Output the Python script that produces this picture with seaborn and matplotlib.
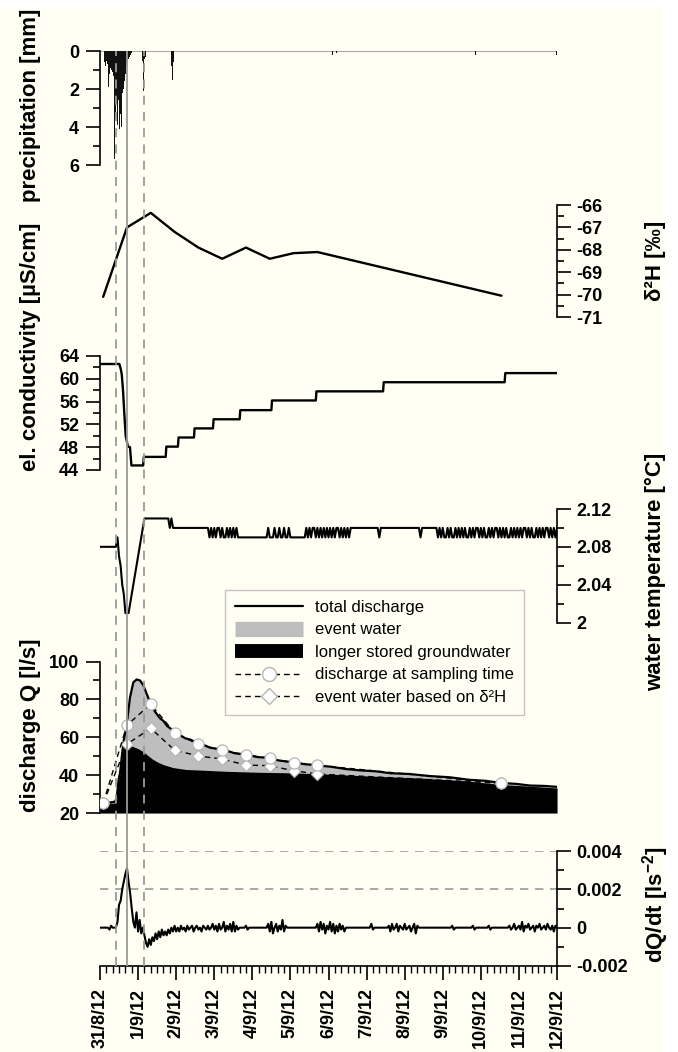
import matplotlib
matplotlib.use("Agg")
import matplotlib.pyplot as plt
import seaborn as sns
import pandas as pd
from matplotlib.lines import Line2D
from matplotlib.patches import Rectangle
from matplotlib.ticker import MultipleLocator

# ---------------- data (time in hours after 31/8/12 00:00) ----------------
day_labels = ["31/8/12", "1/9/12", "2/9/12", "3/9/12", "4/9/12", "5/9/12", "6/9/12",
              "7/9/12", "8/9/12", "9/9/12", "10/9/12", "11/9/12", "12/9/12"]

precip_hours = [3.0, 3.5, 4.0, 4.5, 5.0, 5.5, 6.0, 6.5, 7.0, 7.5, 8.0, 8.5, 9.0, 9.5,
                10.0, 10.5, 11.0, 11.5, 12.0, 12.5, 13.0, 13.5, 14.0, 14.5, 15.0, 15.5,
                16.0, 16.5, 17.0, 17.5, 18.0, 18.5, 19.0, 19.5, 20.0,
                26.5, 27.0, 27.5, 28.0, 28.5, 29.0, 34.7, 42.2, 44.7, 45.2, 45.7, 46.2,
                52.3, 54.8, 145.0, 146.3, 148.8, 230.0, 233.8, 235.7, 236.5, 238.2,
                276.0, 287.5]
precip_mm = [0.6, 0.8, 0.5, 0.7, 0.9, 1.9, 1.2, 0.9, 1.0, 1.5, 1.1, 1.3, 5.7, 2.5,
             3.5, 2.8, 3.9, 2.6, 2.9, 4.1, 3.3, 4.0, 2.2, 2.1, 2.0, 1.6,
             1.2, 0.8, 1.3, 0.5, 0.4, 0.3, 0.2, 0.2, 0.1,
             0.3, 0.5, 2.1, 0.4, 0.3, 0.2, 0.1, 0.1, 0.4, 0.8, 1.5, 0.6,
             0.3, 0.1, 0.3, 0.2, 0.1, 0.1, 0.1, 0.1, 0.2, 0.1,
             0.1, 0.2]

sample_hours = [2, 17, 32, 47, 62, 77, 92, 107, 122, 137, 253]
d2h_permil = [-70.1, -67.0, -66.35, -67.2, -67.9, -68.4, -67.9, -68.4, -68.15, -68.1, -70.05]
q_sample = [25.1, 66.4, 77.5, 62.4, 56.2, 53.2, 50.6, 48.9, 46.5, 45.2, 35.7]
q_event_d2h = [25.1, 56.4, 64.7, 53.2, 50.1, 48.5, 45.3, 45.0, 42.3, 40.6, 35.7]

cond_hours = [0, 12.2, 13.0, 13.7, 14.5, 15.3, 16.2, 17.6, 18.9, 19.8, 27.2, 27.6, 41.4,
              41.8, 49.1, 49.5, 59.2, 59.6, 71.2, 71.6, 88.0, 88.4, 108.0, 108.4, 136.0,
              136.4, 178.4, 178.8, 255.0, 255.4, 288]
cond_uS = [62.6, 62.6, 61.8, 60.8, 58.0, 54.0, 50.0, 48.1, 48.0, 44.8, 44.8, 46.3, 46.3,
           48.1, 48.1, 49.7, 49.7, 51.3, 51.3, 52.9, 52.9, 54.5, 54.5, 56.2, 56.2,
           57.8, 57.8, 59.4, 59.4, 61.0, 61.0]

# hourly water temperature, in hundredths of a degree above 2.00 degC
temp_hundredths = [
    8, 8, 8, 8, 8, 8, 8, 8, 8, 8, 8, 9, 7, 6, 4, 3, 1, 1, 1, 2, 3, 4, 5, 6,
    7, 8, 9, 10, 11, 11, 11, 11, 11, 11, 11, 11, 11, 11, 11, 11, 11, 11, 11, 11, 10, 11, 10, 10,
    10, 10, 10, 10, 10, 10, 10, 10, 10, 10, 10, 10, 10, 10, 10, 10, 10, 10, 10, 10, 10, 9, 10, 9,
    10, 9, 10, 10, 9, 10, 9, 9, 10, 9, 10, 9, 10, 9, 10, 9, 9, 9, 9, 9, 9, 9, 9, 9,
    9, 9, 9, 9, 9, 9, 9, 9, 9, 9, 10, 9, 9, 9, 10, 9, 9, 10, 9, 9, 10, 9, 9, 10,
    9, 9, 9, 9, 9, 9, 9, 9, 9, 9, 10, 9, 10, 9, 10, 10, 9, 10, 9, 10, 9, 10, 9, 10,
    9, 10, 9, 10, 9, 10, 10, 9, 10, 9, 10, 9, 10, 9, 10, 10, 10, 10, 10, 10, 10, 10, 10, 10,
    10, 10, 10, 10, 10, 10, 10, 10, 9, 10, 10, 10, 10, 10, 10, 10, 10, 10, 10, 10, 10, 10, 10, 10,
    10, 10, 10, 10, 10, 10, 10, 10, 10, 10, 9, 10, 10, 10, 10, 10, 10, 10, 10, 10, 10, 9, 10, 9,
    10, 9, 9, 10, 9, 10, 9, 9, 10, 9, 10, 9, 10, 9, 10, 9, 9, 10, 9, 10, 9, 10, 10, 9,
    10, 9, 10, 9, 9, 10, 9, 10, 9, 10, 10, 9, 10, 9, 10, 9, 10, 9, 9, 10, 9, 10, 9, 10,
    9, 10, 9, 10, 10, 9, 10, 9, 10, 9, 9, 10, 9, 10, 9, 10, 9, 10, 10, 9, 10, 9, 10, 9, 10,
]

q_hours = [0, 6.0, 9.5, 10.5, 11.8, 12.6, 14.7, 16.8, 18.9, 21.0, 23.1, 25.2, 27.3, 29.4,
           31.5, 34.7, 37.8, 40.0, 42.2, 44.5, 46.6, 50.0, 53.6, 57.5, 61.8, 65.5, 69.3,
           73.0, 76.9, 81.0, 85.1, 88.5, 92.0, 96.0, 99.6, 103.5, 107.1, 111.0, 114.7,
           118.5, 122.3, 126.0, 129.8, 133.5, 137.4, 145, 155, 164, 174, 183, 195, 208,
           220, 233, 243, 253.3, 262, 271, 280, 288]
q_total = [25.0, 25.5, 26.0, 28, 38, 41, 57, 66.5, 81, 89, 90.5, 90, 87.5, 83,
           78.5, 73.5, 70, 68.6, 66, 64.6, 62.5, 61.3, 59.5, 58.6, 56.5, 55.9, 54.5,
           54.0, 53.0, 52.6, 51.5, 51.2, 50.5, 50.1, 49.5, 49.3, 48.7, 48.0, 47.5,
           47.1, 46.5, 46.2, 45.7, 45.5, 45.0, 44.5, 43.2, 42.5, 42.0, 41.0, 40.6, 39.5,
           38.9, 37.5, 37.0, 35.8, 35.4, 34.5, 34.3, 33.8]

gw_hours = [0, 9.5, 10.5, 11.8, 12.6, 13.6, 14.7, 17.0, 19.0, 21.0, 24, 27, 30, 33, 36,
            40, 46, 54, 62, 80, 100, 120, 145, 170, 200, 230, 253, 270, 288]
q_groundwater = [24.8, 25.3, 27.5, 37.5, 40.5, 48.5, 55.0, 56.0, 55.5, 55.0, 54.0, 52.5,
                 50.5, 48.5, 47.0, 45.5, 44.0, 43.0, 42.7, 42.0, 41.5, 41.2, 40.5, 39.5,
                 38.5, 37.0, 35.0, 34.2, 33.2]

# hourly dQ/dt in units of 1e-4 l s^-2
dqdt_e4 = [
    0, 0, 0, 0, 0, 0, -1, 1, 0, 0, 0, 3, 12, 14, 20, 24, 28, 31, 24, 18, 10, 3, 0, 8,
    -2, 4, -3, 0, -4, -8, -10, -6, -9, -5, -7, -3, -6, -2, -5, -1, -4, -2, -4, -1, -3, 0, -2, 1,
    -2, 0, -2, 1, -1, 0, -2, 1, -1, 0, 1, -2, 0, 1, -1, 0, -2, 1, 0, -1, 1, -1, 0, 2,
    -1, 1, -2, 2, -1, 0, 3, -2, 1, -1, 2, -2, 3, -2, 1, -1, 0, 0, 0, 0, 1, -1, 0, 0,
    0, 0, 0, 0, 0, 0, 0, 0, 0, 0, 2, -2, 3, -3, 0, 2, -2, 1, -1, 4, -2, 1, 0, 0,
    0, 0, 0, 0, 0, 0, 0, 0, 0, 0, 0, 0, 0, 0, 0, 0, 0, 2, -2, 3, -1, 2, -3, 1,
    -1, 3, -2, 2, -3, 1, -2, 2, -1, 1, -2, 0, 0, 0, 0, 0, 0, 0, 0, 0, 0, 0, 0, 0,
    0, 0, 0, 2, -1, 0, 0, 0, 0, 0, 0, 0, 0, 0, 1, -2, 2, -1, 0, 2, -2, 1, 0, -1,
    2, -1, 0, 1, -2, 0, 2, -3, 1, 0, 0, 0, 0, 0, 0, 0, 0, 0, 0, 0, 0, 0, 0, 0,
    0, 0, 0, 0, 0, 0, 1, -1, 0, 0, 0, 0, 0, 0, 0, 0, 0, 0, 0, 1, -1, 0, 0, 0,
    0, 0, 0, 0, 0, 1, -1, 0, 0, 0, 0, 0, 0, 0, 0, 0, 0, 0, 1, -1, 0, 2, -1, 0,
    1, -1, 3, -2, 1, 0, 2, -1, 0, 1, -2, 1, 0, 2, -1, 0, 1, -1, 2, 0, -1, 1, -2, 1, 0,
]

event_line_hours = [10.0, 17.2, 27.7]
event_line_styles = ["dashed", "solid", "dashed"]
dqdt_ref_levels = [0.004, 0.002]

# ---------------- style ----------------
sns.set_theme(style="ticks")
plt.rcParams["font.family"] = ["Liberation Sans", "DejaVu Sans"]
plt.rcParams.update({
    "font.weight": "bold",
    "axes.unicode_minus": False,
    "mathtext.fontset": "custom",
    "mathtext.rm": "Liberation Sans",
    "mathtext.bf": "Liberation Sans:bold",
    "mathtext.it": "Liberation Sans:italic",
    "text.color": "black",
    "axes.labelcolor": "black",
    "xtick.color": "black",
    "ytick.color": "black",
    "axes.edgecolor": "black",
})

CREAM = "#FFFFF3"
EVENT_GRAY = "#BEBEBE"
LINE_GRAY = "#9A9A9A"
MARK_EDGE = "#B5B5B5"
W, H = 678, 1052
TICK_FS = 13
LABEL_FS = 16
LW_SPINE = 1.2

fig = plt.figure(figsize=(W / 100, H / 100), dpi=100)
fig.patch.set_facecolor("white")
fig.patches.append(Rectangle((0, 0), 665 / W, 1 - 7 / H, transform=fig.transFigure,
                             facecolor=CREAM, edgecolor="none", zorder=-10))

X0, X1 = 100, 557


def add_panel(top, bottom):
    ax = fig.add_axes([X0 / W, 1 - bottom / H, (X1 - X0) / W, (bottom - top) / H])
    ax.set_facecolor("none")
    return ax


def fmt(v):
    return "{:g}".format(v)


def style_panel(ax, side, ticks, minor, lim, pad):
    ax.set_xlim(0, 288)
    ax.set_ylim(*lim)
    for s in ["top", "bottom", "left", "right"]:
        ax.spines[s].set_visible(s == side)
    ax.spines[side].set_linewidth(LW_SPINE)
    ax.spines[side].set_color("black")
    if side == "right":
        ax.yaxis.tick_right()
    ax.set_yticks(ticks, labels=[fmt(t) for t in ticks])
    ax.yaxis.set_minor_locator(MultipleLocator(minor))
    ax.tick_params(axis="y", which="major", direction="out", length=10, width=LW_SPINE,
                   labelsize=TICK_FS, pad=pad)
    ax.tick_params(axis="y", which="minor", direction="out", length=5, width=LW_SPINE)
    ax.tick_params(axis="x", which="both", bottom=False, top=False, labelbottom=False)
    ax.set_xlabel("")
    ax.set_ylabel("")
    ax.grid(False)


# ---- precipitation ----
ax_p = add_panel(51, 165)
ax_p.axhline(0, color="#A8A8A8", lw=1.5, zorder=0)
ax_p.bar(precip_hours, precip_mm, width=0.5, color="#111111", edgecolor="none",
         align="center", zorder=2)
style_panel(ax_p, "left", [0, 2, 4, 6], 1, (6, 0), 5)

# ---- delta 2H ----
ax_d = add_panel(205, 317)
sns.lineplot(x=sample_hours, y=d2h_permil, ax=ax_d, color="black", lw=1.7,
             estimator=None, sort=False)
style_panel(ax_d, "right", [-71, -70, -69, -68, -67, -66], 0.5, (-71, -66), 4)

# ---- conductivity ----
ax_c = add_panel(356, 470)
sns.lineplot(x=cond_hours, y=cond_uS, ax=ax_c, color="black", lw=1.7,
             estimator=None, sort=False)
style_panel(ax_c, "left", [44, 48, 52, 56, 60, 64], 2, (44, 64), 5)

# ---- water temperature ----
ax_t = add_panel(509, 622.5)
temp_df = pd.DataFrame({"hour": range(len(temp_hundredths)),
                        "temp": [2 + v / 100 for v in temp_hundredths]})
sns.lineplot(data=temp_df, x="hour", y="temp", ax=ax_t, color="black", lw=1.5,
             estimator=None, sort=False)
style_panel(ax_t, "right", [2.0, 2.04, 2.08, 2.12], 0.02, (2.0, 2.12), 4)

# ---- discharge ----
ax_q = add_panel(661.5, 813)
ax_q.fill_between(q_hours, 20, q_total, color=EVENT_GRAY, lw=0, zorder=1)
ax_q.fill_between(gw_hours, 20, q_groundwater, color="black", lw=0, zorder=2)
sns.lineplot(x=q_hours, y=q_total, ax=ax_q, color="black", lw=1.6,
             estimator=None, sort=False, zorder=3)
sns.lineplot(x=sample_hours, y=q_event_d2h, ax=ax_q, color="black", lw=1.0,
             linestyle=(0, (4, 3)), marker="D", markersize=6, markerfacecolor="white",
             markeredgecolor=MARK_EDGE, markeredgewidth=0.9, estimator=None, sort=False,
             zorder=4)
sns.lineplot(x=sample_hours, y=q_sample, ax=ax_q, color="black", lw=1.0,
             linestyle=(0, (4, 3)), marker="o", markersize=8, markerfacecolor="white",
             markeredgecolor=MARK_EDGE, markeredgewidth=0.9, estimator=None, sort=False,
             zorder=5)
style_panel(ax_q, "left", [20, 40, 60, 80, 100], 10, (20, 100), 5)

# ---- dQ/dt ----
ax_g = add_panel(851, 966)
for lvl in dqdt_ref_levels:
    ax_g.axhline(lvl, color=LINE_GRAY, lw=1.2, linestyle=(0, (5, 4)), zorder=0)
dq_df = pd.DataFrame({"hour": range(len(dqdt_e4)), "dqdt": [v * 1e-4 for v in dqdt_e4]})
sns.lineplot(data=dq_df, x="hour", y="dqdt", ax=ax_g, color="black", lw=1.5,
             estimator=None, sort=False)
style_panel(ax_g, "right", [-0.002, 0, 0.002, 0.004], 0.001, (-0.002, 0.004), 4)
ax_g.spines["bottom"].set_visible(True)
ax_g.spines["bottom"].set_linewidth(LW_SPINE)
ax_g.spines["bottom"].set_color("black")
ax_g.set_xticks([24 * i for i in range(len(day_labels))], labels=day_labels, rotation=90)
ax_g.xaxis.set_minor_locator(MultipleLocator(4))
ax_g.tick_params(axis="x", which="major", bottom=True, labelbottom=True, direction="out",
                 length=10, width=LW_SPINE, labelsize=TICK_FS, pad=6)
ax_g.tick_params(axis="x", which="minor", bottom=True, direction="out", length=5,
                 width=1.0)

# ---- event marker lines across all panels ----
ax_o = add_panel(51, 966)
ax_o.set_xlim(0, 288)
ax_o.axis("off")
for xh, ls in zip(event_line_hours, event_line_styles):
    ax_o.axvline(xh, color=LINE_GRAY, lw=1.3,
                 linestyle=(0, (5, 4)) if ls == "dashed" else "-")

# ---- axis titles ----
fig.text(31 / W, 1 - 105 / H, "precipitation [mm]", rotation=90, ha="center",
         va="center", fontsize=LABEL_FS, fontweight="bold")
fig.text(31 / W, 1 - 347 / H, "el. conductivity [µS/cm]", rotation=90, ha="center",
         va="center", fontsize=LABEL_FS, fontweight="bold")
fig.text(31 / W, 1 - 725 / H, "discharge Q [l/s]", rotation=90, ha="center",
         va="center", fontsize=LABEL_FS, fontweight="bold")
fig.text(655 / W, 1 - 261 / H, "δ²H [‰]", rotation=90, ha="center",
         va="center", fontsize=LABEL_FS, fontweight="bold")
fig.text(656 / W, 1 - 572 / H, "water temperature [°C]", rotation=90, ha="center",
         va="center", fontsize=LABEL_FS, fontweight="bold")
fig.text(656 / W, 1 - 905 / H, r"dQ/dt [ls$^{\mathbf{-2}}$]", rotation=90, ha="center",
         va="center", fontsize=LABEL_FS, fontweight="bold")

# ---- legend ----
handles = [
    Line2D([], [], color="black", lw=1.6),
    Line2D([], [], color=EVENT_GRAY, lw=11, solid_capstyle="butt"),
    Line2D([], [], color="black", lw=10, solid_capstyle="butt"),
    Line2D([], [], color="black", lw=1.0, linestyle=(0, (4, 3)), marker="o",
           markersize=10, markerfacecolor="white", markeredgecolor=MARK_EDGE),
    Line2D([], [], color="black", lw=1.0, linestyle=(0, (4, 3)), marker="D",
           markersize=8, markerfacecolor="white", markeredgecolor=MARK_EDGE),
]
labels = ["total discharge", "event water", "longer stored groundwater",
          "discharge at sampling time", "event water based on δ²H"]
leg = fig.legend(handles, labels, loc="upper left", bbox_to_anchor=(225 / W, 1 - 590 / H),
                 bbox_transform=fig.transFigure, frameon=True, fancybox=False,
                 framealpha=1, facecolor=CREAM, edgecolor="#C4C4C4", borderaxespad=0,
                 borderpad=0.6, handlelength=4.1, handletextpad=0.7, labelspacing=0.45,
                 numpoints=1, prop={"weight": "normal", "size": 12})
leg.get_frame().set_linewidth(1.0)

fig.savefig("out.png", dpi=100, facecolor=fig.get_facecolor())
